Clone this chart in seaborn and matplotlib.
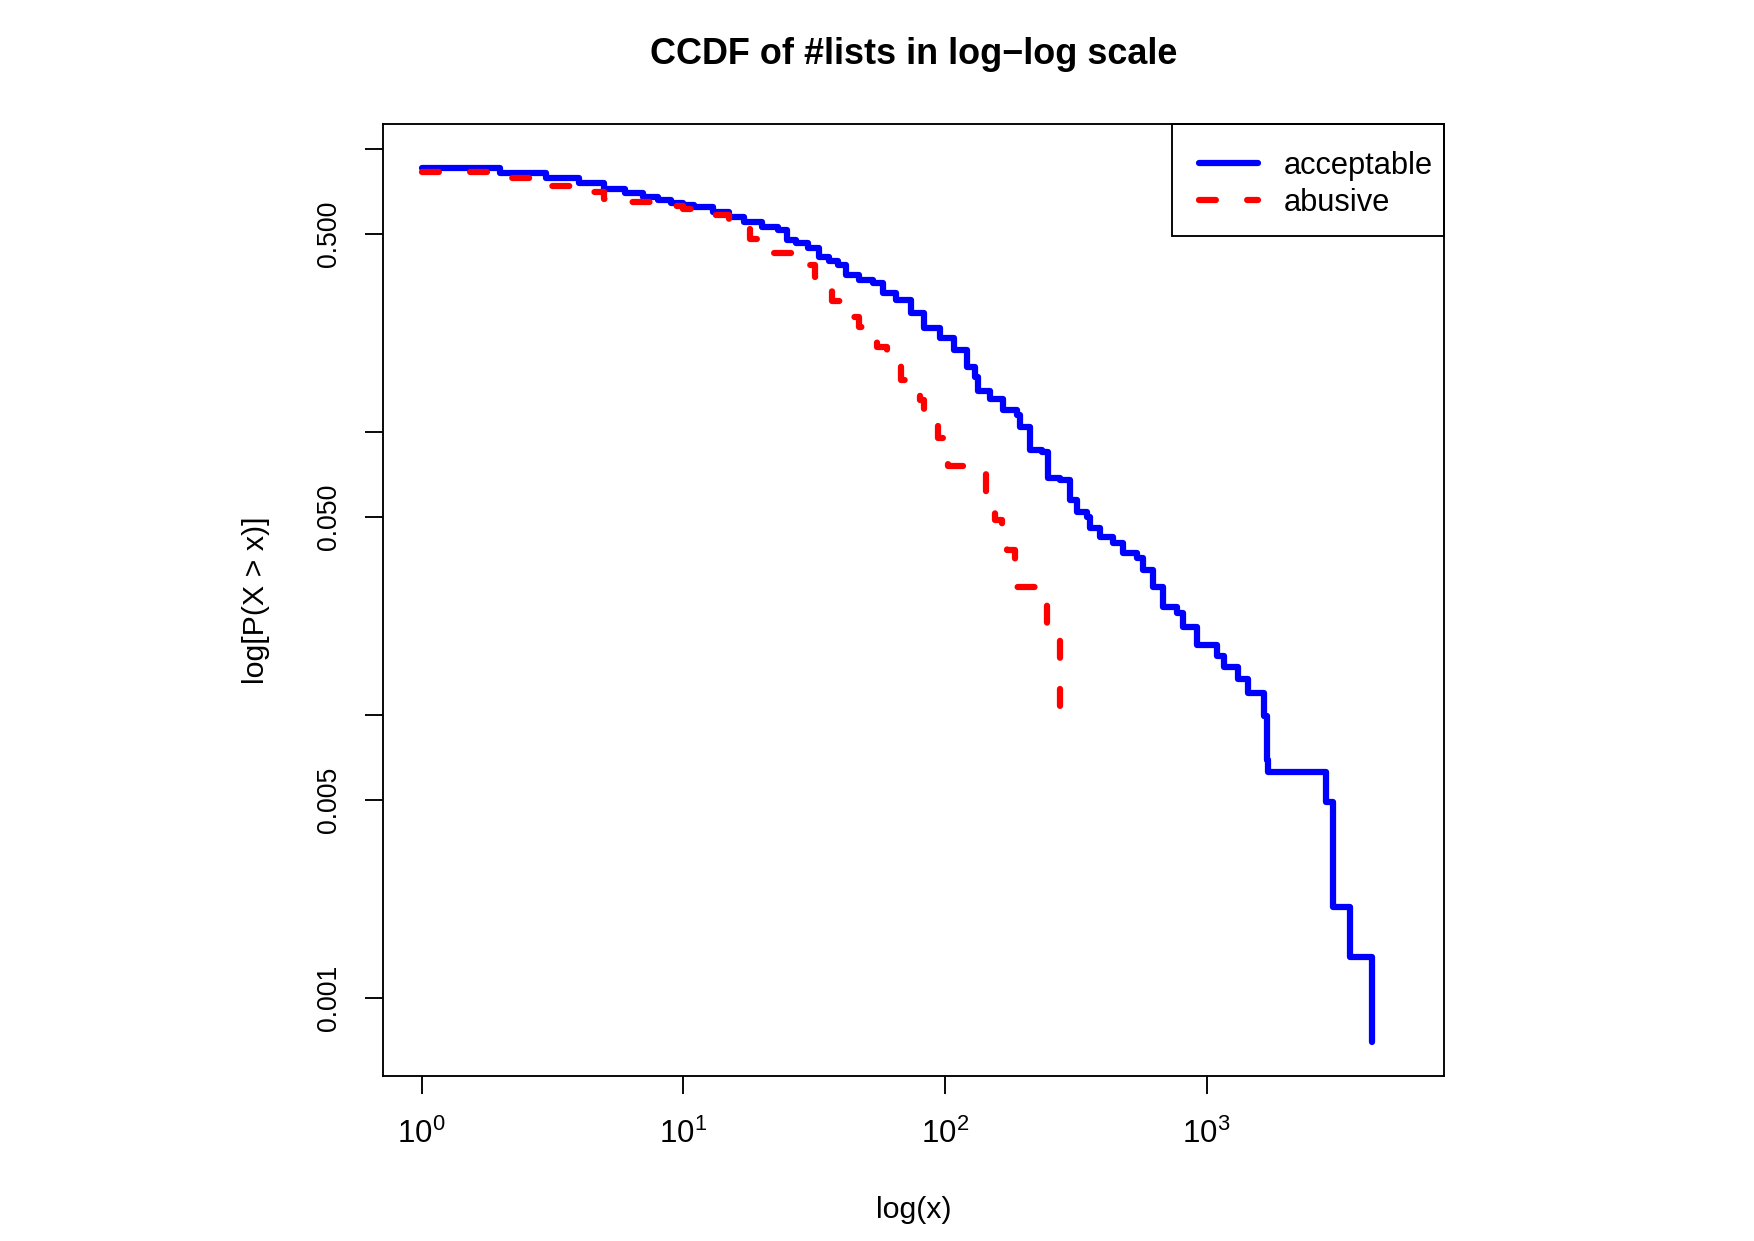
import matplotlib
matplotlib.use("Agg")
import matplotlib.pyplot as plt
from matplotlib.patches import Rectangle
import seaborn as sns

# --- data (CCDF step points) ---
acceptable_x = [1, 2, 3, 4, 5, 6, 7, 8, 9, 10, 11, 13, 15, 17, 20, 23, 25, 27,
                30, 33, 36, 39, 42, 47, 53, 58, 65, 74, 83, 96, 108, 121, 130,
                134, 149, 167, 188, 194, 212, 234, 248, 276, 301, 319, 348, 358,
                392, 440, 481, 540, 573, 625, 684, 769, 815, 917, 1093, 1160,
                1322, 1443, 1662, 1697, 1723, 2858, 3034, 3533, 4298]
acceptable_y = [0.857, 0.82, 0.787, 0.755, 0.721, 0.70, 0.678, 0.659, 0.645,
                0.633, 0.624, 0.600, 0.576, 0.552, 0.531, 0.516, 0.476, 0.463,
                0.445, 0.416, 0.40, 0.389, 0.358, 0.344, 0.335, 0.309, 0.292,
                0.262, 0.232, 0.214, 0.1945, 0.170, 0.1566, 0.139, 0.131, 0.119,
                0.115, 0.104, 0.0862, 0.0851, 0.0686, 0.0675, 0.0574, 0.0522,
                0.050, 0.0456, 0.0426, 0.0404, 0.0372, 0.0357, 0.0325, 0.0284,
                0.0241, 0.0229, 0.0205, 0.0176, 0.0162, 0.0148, 0.0134, 0.0119,
                0.00987, 0.00692, 0.0063, 0.00491, 0.0021, 0.0014, 0.0007]

abusive_x = [1, 2, 3, 4, 5, 6, 8, 10, 13, 15, 18, 20, 21, 26, 29, 32, 37, 40,
             43, 47, 50, 55, 60, 63, 68, 77, 80, 83, 87, 94, 103, 144, 155, 165,
             172, 185, 245, 276]
abusive_y = [0.826, 0.790, 0.739, 0.706, 0.663, 0.650, 0.628, 0.615, 0.584,
             0.560, 0.48, 0.457, 0.427, 0.410, 0.389, 0.352, 0.29, 0.264, 0.255,
             0.235, 0.217, 0.20, 0.182, 0.175, 0.152, 0.141, 0.13, 0.118, 0.107,
             0.095, 0.0759, 0.052, 0.0488, 0.0444, 0.0382, 0.0284, 0.0199, 0.0105]

y_ticks = [1.0, 0.5, 0.1, 0.05, 0.01, 0.005, 0.001]
y_tick_labels = ["", "0.500", "", "0.050", "", "0.005", "0.001"]
x_ticks = [1, 10, 100, 1000]
x_tick_labels = [r"$10^{0}$", r"$10^{1}$", r"$10^{2}$", r"$10^{3}$"]

sns.set_theme(style="white")
plt.rcParams["font.family"] = ["Liberation Sans", "DejaVu Sans"]
plt.rcParams["mathtext.fontset"] = "custom"
plt.rcParams["mathtext.rm"] = "Liberation Sans"
plt.rcParams["mathtext.it"] = "Liberation Sans:italic"
plt.rcParams["axes.unicode_minus"] = True
plt.rcParams["text.color"] = "black"

fig = plt.figure(figsize=(1754 / 150, 1241 / 150), dpi=150)
ax = fig.add_axes([0.2184, 0.1330, 0.6049, 0.7671])

sns.lineplot(x=acceptable_x, y=acceptable_y, drawstyle="steps-post", color="blue",
             lw=3, solid_joinstyle="round", solid_capstyle="round",
             label="acceptable", ax=ax)
sns.lineplot(x=abusive_x, y=abusive_y, drawstyle="steps-post", color="red",
             lw=3, linestyle=(0, (2.7, 5.0)), dash_capstyle="round",
             dash_joinstyle="round", label="abusive", ax=ax)

ax.set_xscale("log")
ax.set_yscale("log")
ax.set_xlim(0.713, 8075)
ax.set_ylim(0.00053, 1.224)

ax.set_xticks(x_ticks)
ax.set_xticklabels(x_tick_labels)
ax.set_yticks(y_ticks)
ax.set_yticklabels(y_tick_labels)
ax.minorticks_off()
for lbl in ax.get_yticklabels():
    lbl.set_rotation(90)
    lbl.set_va("center")

ax.tick_params(axis="both", which="major", direction="out", length=8.6, width=0.9,
               color="black", labelcolor="black", bottom=True, left=True)
ax.tick_params(axis="x", pad=12, labelsize=15)
ax.tick_params(axis="y", pad=11, labelsize=12.8)

for s in ax.spines.values():
    s.set_color("black")
    s.set_linewidth(0.9)

ax.set_xlabel("log(x)", fontsize=14.6, labelpad=22, color="black")
ax.set_ylabel("log[P(X > x)]", fontsize=14.6, labelpad=22, color="black")

fig.text(0.5208, 1 - 55 / 1241, "CCDF of #lists in log\u2212log scale",
         ha="center", va="center", fontsize=17.3, fontweight="bold", color="black")

# legend: entries without frame, box drawn separately (R-style padding)
leg = ax.legend(loc="upper left", bbox_to_anchor=(0.769, 0.9715), borderaxespad=0,
                borderpad=0, fontsize=14.8, frameon=False, handlelength=1.9,
                handletextpad=0.85, labelspacing=0.23, labelcolor="black")
ax.add_patch(Rectangle((0.7436, 0.8824), 0.2564, 0.1176, transform=ax.transAxes,
                       fill=False, edgecolor="black", lw=0.9, clip_on=False,
                       zorder=5))

fig.savefig("out.png", dpi=150, facecolor="white")
